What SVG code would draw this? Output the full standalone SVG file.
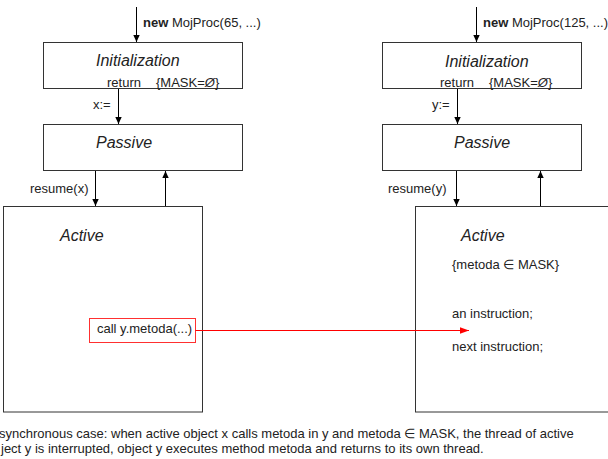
<svg xmlns="http://www.w3.org/2000/svg" width="608" height="459" viewBox="0 0 608 459">
<defs>
<marker id="ah" markerUnits="userSpaceOnUse" markerWidth="8" markerHeight="8" refX="7" refY="4" orient="auto">
<path d="M0,0.8 L7,4 L0,7.2 Z" fill="#000"/>
</marker>
<marker id="ahr" markerUnits="userSpaceOnUse" markerWidth="10" markerHeight="8" refX="9" refY="4" orient="auto">
<path d="M0,0.8 L9,4 L0,7.2 Z" fill="#ff0000"/>
</marker>
<style>
.box{fill:#fff;stroke:#333;stroke-width:1}
.t{font-family:"Liberation Sans",Arial,sans-serif;font-size:13px;fill:#222}
.ti{font-family:"Liberation Sans",Arial,sans-serif;font-size:16px;font-style:italic;fill:#222}
.c{fill:none;stroke:#000;stroke-width:1}
.cr{fill:none;stroke:#ff0000;stroke-width:1}
</style>
</defs>
<rect width="608" height="459" fill="#fff"/>
<g id="init-x">
<rect class="box" x="43.5" y="42.5" width="199" height="46"/>
<text class="ti" x="96" y="66">Initialization</text>
<text class="t" y="87"><tspan x="107">return</tspan><tspan x="156">{MASK=</tspan><tspan font-style="italic">Ø</tspan><tspan>}</tspan></text>
</g>
<g id="passive-x">
<rect class="box" x="43.5" y="124.5" width="199" height="46"/>
<text class="ti" x="96" y="148">Passive</text>
</g>
<g id="active-x">
<rect class="box" x="3.5" y="206.5" width="199" height="205.5"/>
<text class="ti" x="60" y="241">Active</text>
</g>
<g id="call-x">
<rect x="89.5" y="318.5" width="106" height="24" fill="#fff" stroke="#ff3030" stroke-width="1"/>
<text class="t" x="97" y="333">call y.metoda(...)</text>
</g>
<g id="init-y">
<rect class="box" x="382.5" y="42.5" width="199" height="46"/>
<text class="ti" x="445" y="67">Initialization</text>
<text class="t" y="87"><tspan x="440">return</tspan><tspan x="489">{MASK=</tspan><tspan font-style="italic">Ø</tspan><tspan>}</tspan></text>
</g>
<g id="passive-y">
<rect class="box" x="382.5" y="124.5" width="199" height="46"/>
<text class="ti" x="454" y="148">Passive</text>
</g>
<g id="active-y">
<rect class="box" x="415.5" y="206.5" width="200" height="205.5"/>
<text class="ti" x="461" y="241">Active</text>
<text class="t" x="452" y="269">{metoda ∈ MASK}</text>
<text class="t" x="452" y="318">an instruction;</text>
<text class="t" x="452" y="351">next instruction;</text>
</g>
<g id="connectors">
<line class="c" x1="136.5" y1="7" x2="136.5" y2="42" marker-end="url(#ah)"/>
<line class="c" x1="118.5" y1="89" x2="118.5" y2="124" marker-end="url(#ah)"/>
<line class="c" x1="95.5" y1="171" x2="95.5" y2="206" marker-end="url(#ah)"/>
<line class="c" x1="165.5" y1="206" x2="165.5" y2="171" marker-end="url(#ah)"/>
<line class="c" x1="476.5" y1="7" x2="476.5" y2="42" marker-end="url(#ah)"/>
<line class="c" x1="457.5" y1="89" x2="457.5" y2="124" marker-end="url(#ah)"/>
<line class="c" x1="456.5" y1="171" x2="456.5" y2="206" marker-end="url(#ah)"/>
<line class="c" x1="540.5" y1="206" x2="540.5" y2="171" marker-end="url(#ah)"/>
<line class="cr" x1="195.5" y1="330.5" x2="469" y2="330.5" marker-end="url(#ahr)"/>
</g>
<g id="labels">
<text class="t" x="143" y="27"><tspan font-weight="bold">new</tspan> MojProc(65, ...)</text>
<text class="t" x="483" y="27"><tspan font-weight="bold">new</tspan> MojProc(125, ...)</text>
<text class="t" x="93" y="109">x:=</text>
<text class="t" x="432" y="109">y:=</text>
<text class="t" x="30" y="193">resume(x)</text>
<text class="t" x="388" y="193">resume(y)</text>
<text class="t" x="-1" y="438">synchronous case: when active object x calls metoda in y and metoda ∈ MASK, the thread of active</text>
<text class="t" x="1" y="453">ject y is interrupted, object y executes method metoda and returns to its own thread.</text>
</g>
</svg>
